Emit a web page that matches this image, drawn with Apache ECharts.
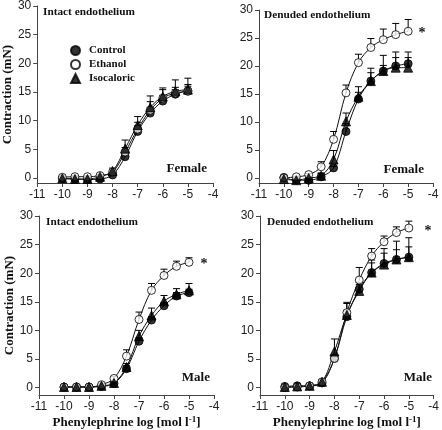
<!DOCTYPE html>
<html>
<head>
<meta charset="utf-8">
<script src="https://cdn.jsdelivr.net/npm/echarts@6/dist/echarts.min.js"></script>
<style>html,body{margin:0;padding:0;background:#fff;}#c{width:442px;height:430px;}</style>
</head>
<body>
<div id="c"></div>
<script>
// log [phenylephrine] (mol/l)
const doses = [-10, -9.5, -9, -8.5, -8, -7.5, -7, -6.5, -6, -5.5, -5];
const yTicks = [0, 5, 10, 15, 20, 25, 30];
const seriesNames = ['Control', 'Ethanol', 'Isocaloric'];

// Panel 1: Female, intact endothelium
const fIntControl = [-0.1, -0.2, -0.3, -0.2, 0.5, 3.7, 8.1, 11.3, 13.4, 14.6, 15.2];
const fIntControlErr = [0.1, 0.1, 0.1, 0.1, 0.3, 0.5, 1.0, 1.0, 1.0, 0.8, 0.8];
const fIntEthanol = [0.1, 0.2, 0.2, 0.4, 1.0, 4.5, 8.5, 11.8, 13.9, 14.8, 15.1];
const fIntEthanolErr = [0.1, 0.1, 0.1, 0.2, 0.4, 0.8, 1.2, 1.5, 1.5, 1.0, 1.2];
const fIntIso = [-0.1, -0.2, -0.2, 0.2, 1.2, 5.1, 9.2, 12.3, 14.2, 15.1, 15.4];
const fIntIsoErr = [0.1, 0.1, 0.1, 0.2, 0.5, 1.5, 1.5, 2.0, 1.5, 2.0, 2.0];

// Panel 2: Female, denuded endothelium
const fDenControl = [0.1, -0.4, -0.4, 0.2, 1.8, 8.3, 14.1, 17.3, 19.1, 20.0, 20.4];
const fDenControlErr = [0.1, 0.1, 0.1, 0.6, 0.3, 1.4, 1.2, 2.3, 2.8, 2.5, 2.1];
const fDenEthanol = [0.0, 0.2, 0.6, 2.0, 6.9, 15.2, 20.6, 23.3, 24.7, 25.6, 26.2];
const fDenEthanolErr = [0.1, 0.1, 0.2, 0.9, 1.4, 1.4, 1.5, 1.6, 1.9, 2.0, 2.1];
const fDenIso = [-0.2, -0.4, 0.0, 0.4, 3.3, 10.1, 14.5, 17.3, 19.1, 19.7, 19.7];
const fDenIsoErr = [0.1, 0.1, 0.1, 0.5, 1.6, 1.5, 1.8, 1.5, 1.0, 1.8, 1.8];

// Panel 3: Male, intact endothelium
const mIntControl = [0.1, 0.1, 0.1, 0.2, 0.7, 3.3, 8.1, 11.8, 14.3, 16.0, 16.6];
const mIntControlErr = [0.1, 0.1, 0.1, 0.1, 0.3, 0.5, 0.6, 0.6, 0.6, 0.6, 0.6];
const mIntEthanol = [0.1, 0.1, 0.1, 0.5, 1.6, 5.5, 11.9, 17.0, 19.6, 21.2, 21.9];
const mIntEthanolErr = [0.1, 0.1, 0.1, 0.2, 0.3, 1.1, 1.3, 1.2, 1.1, 0.9, 0.8];
const mIntIso = [0.1, 0.1, 0.1, 0.3, 0.8, 3.6, 9.0, 12.6, 15.1, 16.3, 17.0];
const mIntIsoErr = [0.1, 0.1, 0.1, 0.1, 0.3, 0.6, 1.0, 1.3, 1.0, 1.0, 1.2];

// Panel 4: Male, denuded endothelium
const mDenControl = [0.2, 0.3, 0.3, 0.8, 5.1, 12.4, 17.2, 20.1, 21.7, 22.4, 22.8];
const mDenControlErr = [0.1, 0.2, 0.2, 0.3, 0.5, 1.0, 0.8, 1.7, 1.8, 1.7, 1.8];
const mDenEthanol = [0.0, 0.1, 0.3, 1.0, 5.1, 13.1, 18.8, 23.0, 25.5, 27.1, 27.9];
const mDenEthanolErr = [0.1, 0.1, 0.2, 0.3, 0.6, 1.8, 2.2, 1.3, 1.0, 1.0, 1.2];
const mDenIso = [0.1, 0.2, 0.3, 1.0, 6.3, 12.7, 16.9, 20.1, 21.5, 22.4, 22.8];
const mDenIsoErr = [0.1, 0.2, 0.2, 0.4, 2.2, 2.0, 1.5, 2.2, 2.8, 3.2, 3.4];

const panels = [
  { series: [[fIntControl, fIntControlErr], [fIntEthanol, fIntEthanolErr], [fIntIso, fIntIsoErr]] },
  { series: [[fDenControl, fDenControlErr], [fDenEthanol, fDenEthanolErr], [fDenIso, fDenIsoErr]] },
  { series: [[mIntControl, mIntControlErr], [mIntEthanol, mIntEthanolErr], [mIntIso, mIntIsoErr]] },
  { series: [[mDenControl, mDenControlErr], [mDenEthanol, mDenEthanolErr], [mDenIso, mDenIsoErr]] }
];

const grids = [
  { left: 34, top: 5, width: 179, height: 178, ymin: -0.9, yName: 'Contraction (mN)', yGap: 16, xName: '' },
  { left: 259, top: 10, width: 174, height: 173, ymin: -0.9, yName: '', yGap: 16, xName: '' },
  { left: 39, top: 216, width: 175, height: 179, ymin: -1.3, yName: 'Contraction (mN)', yGap: 18, xName: 'Phenylephrine log [mol l{sup|-1}]' },
  { left: 260, top: 216, width: 175, height: 179, ymin: -1.3, yName: '', yGap: 18, xName: 'Phenylephrine log [mol l{sup|-1}]' }
];

const axisColor = '#444';
const labelFont = { color: '#222', fontFamily: 'Liberation Sans', fontSize: 12 };
const serifBold = { fontFamily: 'Liberation Serif', fontWeight: 'bold', color: '#111' };

const markerStyles = [
  { symbol: 'circle', itemStyle: { color: '#000', borderColor: '#000', borderWidth: 1 } },
  { symbol: 'circle', itemStyle: { color: '#fff', borderColor: '#000', borderWidth: 1 } },
  { symbol: 'triangle', itemStyle: { color: '#000', borderColor: '#000', borderWidth: 1 } }
];

function errRender(params, api) {
  const x = api.value(0), y = api.value(1), e = api.value(2);
  const p0 = api.coord([x, y]);
  const p1 = api.coord([x, y + e]);
  const hw = 3.5;
  return {
    type: 'group',
    children: [
      { type: 'line', shape: { x1: p0[0], y1: p0[1], x2: p1[0], y2: p1[1] }, style: { stroke: '#000', lineWidth: 1 } },
      { type: 'line', shape: { x1: p1[0] - hw, y1: p1[1], x2: p1[0] + hw, y2: p1[1] }, style: { stroke: '#000', lineWidth: 1 } }
    ]
  };
}

const option = {
  backgroundColor: '#fff',
  animation: false,
  grid: [], xAxis: [], yAxis: [], series: [],
  legend: {
    orient: 'vertical',
    left: 65, top: 40,
    itemWidth: 9, itemHeight: 9, itemGap: 3,
    textStyle: Object.assign({ fontSize: 11, padding: [0, 0, 0, 4] }, serifBold),
    data: [
      { name: 'Control', icon: 'circle' },
      { name: 'Ethanol', icon: 'circle' },
      { name: 'Isocaloric', icon: 'triangle' }
    ],
    selectedMode: false
  },
  graphic: []
};

grids.forEach((g, i) => {
  option.grid.push({ left: g.left, top: g.top, width: g.width, height: g.height, containLabel: false });
  option.xAxis.push({
    gridIndex: i, type: 'value', min: -11, max: -4, interval: 1,
    axisLine: { onZero: false, lineStyle: { color: axisColor, width: 1 } },
    axisTick: { length: 4, lineStyle: { color: axisColor } },
    axisLabel: Object.assign({ margin: 6 }, labelFont),
    splitLine: { show: false },
    name: g.xName, nameLocation: 'middle', nameGap: 20,
    nameTextStyle: Object.assign({ fontSize: 13, verticalAlign: 'top',
      rich: { sup: { fontFamily: 'Liberation Serif', fontWeight: 'bold', fontSize: 9, verticalAlign: 'top', padding: [0, 0, 6, 0], color: '#111' } } }, serifBold)
  });
  option.yAxis.push({
    gridIndex: i, type: 'value', min: g.ymin, max: 30,
    axisLine: { show: true, onZero: false, lineStyle: { color: axisColor, width: 1 } },
    axisTick: { show: true, length: 4, customValues: yTicks, lineStyle: { color: axisColor } },
    axisLabel: Object.assign({ margin: 6, customValues: yTicks }, labelFont),
    splitLine: { show: false },
    name: g.yName, nameLocation: 'middle', nameGap: g.yGap,
    nameTextStyle: Object.assign({ fontSize: 13 }, serifBold)
  });
  panels[i].series.forEach((pair, k) => {
    const vals = pair[0], errs = pair[1];
    const pts = doses.map((d, j) => [d, vals[j]]);
    option.series.push({
      type: 'line', name: seriesNames[k] + ' fit', xAxisIndex: i, yAxisIndex: i,
      data: pts, smooth: 0.35, showSymbol: false, symbol: 'none',
      lineStyle: { color: '#111', width: 1 }, z: 2, silent: true
    });
    option.series.push({
      type: 'custom', name: seriesNames[k] + ' SEM', xAxisIndex: i, yAxisIndex: i,
      data: doses.map((d, j) => [d, vals[j], errs[j]]),
      encode: { x: 0, y: 1 }, renderItem: errRender, z: 3, silent: true
    });
    option.series.push({
      type: 'scatter', name: seriesNames[k], xAxisIndex: i, yAxisIndex: i,
      data: pts, symbol: markerStyles[k].symbol, symbolSize: k === 2 ? 9 : 8,
      itemStyle: markerStyles[k].itemStyle, z: 5
    });
  });
});

function txt(t, x, y, size, align) {
  return {
    type: 'text', x: x, y: y, silent: true,
    style: { text: t, font: 'bold ' + size + 'px "Liberation Serif"', fill: '#111', align: align || 'left', verticalAlign: 'middle' }
  };
}
option.graphic = [
  txt('Intact endothelium', 43, 12, 11.3),
  txt('Denuded endothelium', 264, 15, 11.3),
  txt('Intact endothelium', 46, 222, 11.3),
  txt('Denuded endothelium', 267, 222, 11.3),
  txt('Female', 207, 169, 13, 'right'),
  txt('Female', 424, 170, 13, 'right'),
  txt('Male', 210, 378, 13, 'right'),
  txt('Male', 432, 378, 13, 'right'),
  txt('*', 422, 33, 14, 'center'),
  txt('*', 204, 264, 14, 'center'),
  txt('*', 428, 231, 14, 'center')
];

const chart = echarts.init(document.getElementById('c'), null, { renderer: 'canvas' });
chart.setOption(option);
</script>
</body>
</html>
